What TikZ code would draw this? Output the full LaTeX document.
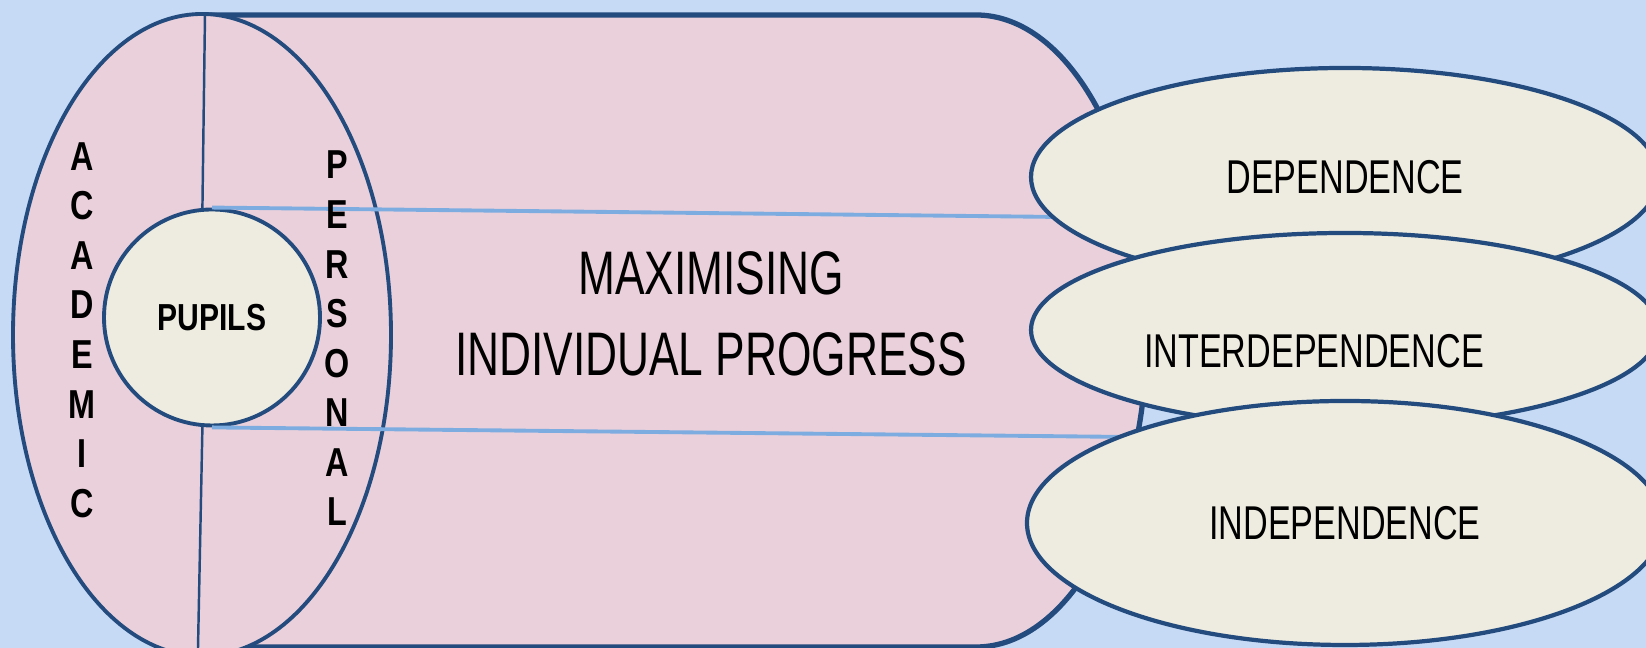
\documentclass[tikz,border=0pt]{standalone}
\usepackage{fontspec}
\usepackage{xcolor}
\usetikzlibrary{shapes.geometric}
\newfontfamily\narrowsans[FakeStretch=0.72]{Liberation Sans}
\newfontfamily\narrowbold[FakeStretch=0.8]{Liberation Sans}

\definecolor{bgblue}{RGB}{198,218,246}
\definecolor{bodypink}{RGB}{234,208,219}
\definecolor{cream}{RGB}{238,236,225}
\definecolor{edgeblue}{RGB}{35,75,125}
\definecolor{linkblue}{RGB}{125,172,224}

\begin{document}
\begin{tikzpicture}[
			outline/.style={draw=edgeblue, line width=1.1pt},
			stage/.style={ellipse, outline, line width=1.2pt, fill=cream, inner sep=0pt, minimum width=6.28cm},
			link/.style={draw=linkblue, line width=1.1pt},
			stagetext/.style={font=\narrowsans\fontsize{13.5}{16}\selectfont},
			side/.style={align=center, font=\narrowbold\bfseries\fontsize{11.5}{14.1}\selectfont}]
			
			\fill[bgblue] (0,0) rectangle (16.46,6.48);
			\useasboundingbox (0,0) rectangle (16.46,6.48);
			
			% cylinder body
			\fill[bodypink] (2.05,6.33) -- (9.76,6.33) arc[start angle=90, end angle=-90, x radius=1.71, y radius=3.16] -- (1.98,0.01) -- cycle;
			\draw[outline, line width=1.5pt] (2.05,6.33) -- (9.76,6.33) arc[start angle=90, end angle=-90, x radius=1.71, y radius=3.16] -- (1.98,0.01);
			
			% end face
			\node[ellipse, outline, fill=bodypink, minimum width=3.78cm, minimum height=6.42cm, inner sep=0pt] (face) at (2.02,3.13) {};
			\node[circle, outline, fill=cream, minimum size=2.16cm, inner sep=0pt, font=\narrowbold\bfseries\fontsize{10.7}{12}\selectfont] (pupils) at (2.12,3.305) {PUPILS};
			\coordinate (facetop) at (2.05,6.34);
			\coordinate (facefoot) at (1.98,0.0);
			\draw[edgeblue, line width=0.7pt] (facetop) -- (pupils.95);
			\draw[edgeblue, line width=0.7pt] (pupils.265) -- (facefoot);
			
			\coordinate (depend) at (10.6,4.31);
			\coordinate (independ) at (11.3,2.11);
			\draw[link] (pupils.north) -- (depend);
			\draw[link] (pupils.south) -- (independ);
			
			% stages
			\node[stage, minimum height=2.18cm, stagetext] (dep) at (13.45,4.71) {DEPENDENCE};
			\node[stage, minimum height=1.94cm] (inter) at (13.45,3.18) {};
			\node[stagetext] (intertext) at ([xshift=-3.1mm, yshift=-2.15mm]inter.center) {INTERDEPENDENCE};
			\node[stage, minimum height=2.44cm, minimum width=6.36cm, stagetext] (indep) at (13.45,1.25) {INDEPENDENCE};
			
			\node[align=center, font=\narrowsans\fontsize{17.5}{23}\selectfont] (goal) at (7.11,3.345) {MAXIMISING\\INDIVIDUAL PROGRESS};
			\node[side] (academic) at (0.82,3.18) {A\\C\\A\\D\\E\\M\\I\\C};
			\node[side] (personal) at (3.37,3.095) {P\\E\\R\\S\\O\\N\\A\\L};
		\end{tikzpicture}
\end{document}
